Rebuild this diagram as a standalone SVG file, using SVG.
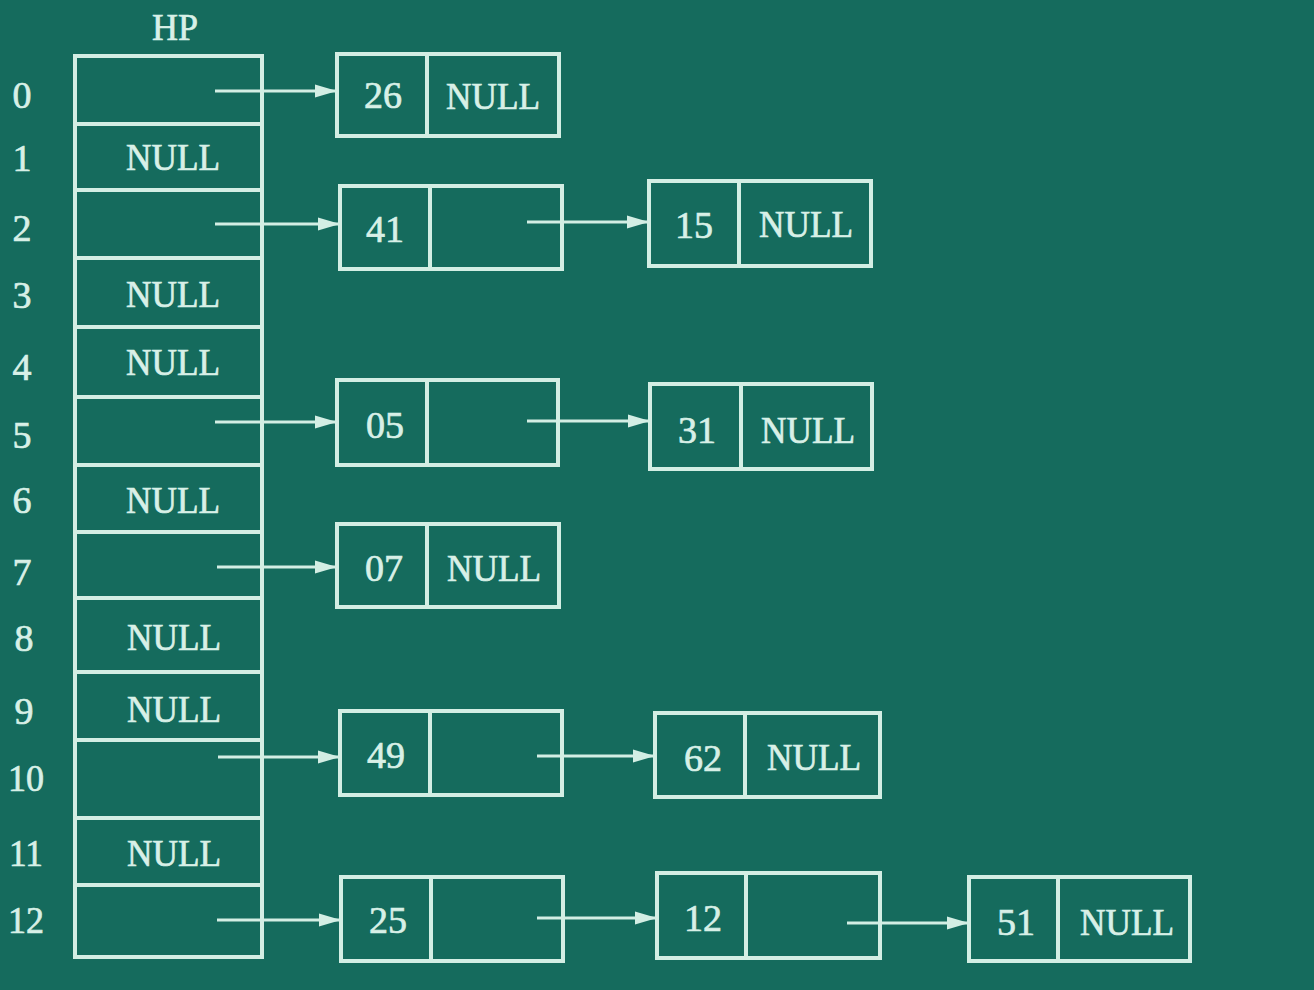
<svg xmlns="http://www.w3.org/2000/svg" width="1314" height="990" viewBox="0 0 1314 990">
<defs>
<style>
.ln{stroke:#d3eee4;stroke-width:4;fill:none}
.t{fill:#d8f0e7;stroke:#d8f0e7;stroke-width:0.7;font-family:"Liberation Serif","Times New Roman",serif;font-size:38px;text-anchor:middle}
.c{stroke:#d3eee4;stroke-width:3;fill:none}
</style>
<marker id="ah" markerUnits="userSpaceOnUse" markerWidth="24" markerHeight="16" refX="22" refY="8" orient="auto">
<path d="M0,1.5 L22,8 L0,14.5 Z" fill="#d3eee4"/>
</marker>
</defs>
<rect width="1314" height="990" fill="#156b5d"/>
<text class="t" x="175" y="40" font-size="32" textLength="46" lengthAdjust="spacingAndGlyphs">HP</text>
<g id="index">
<text class="t" x="22" y="108">0</text>
<text class="t" x="22" y="171">1</text>
<text class="t" x="22" y="241">2</text>
<text class="t" x="22" y="308">3</text>
<text class="t" x="22" y="380">4</text>
<text class="t" x="22" y="448">5</text>
<text class="t" x="22" y="513">6</text>
<text class="t" x="22" y="585">7</text>
<text class="t" x="24" y="651">8</text>
<text class="t" x="24" y="724">9</text>
<text class="t" x="26" y="791" textLength="36" lengthAdjust="spacingAndGlyphs">10</text>
<text class="t" x="26" y="866" textLength="34" lengthAdjust="spacingAndGlyphs">11</text>
<text class="t" x="26" y="933" textLength="36" lengthAdjust="spacingAndGlyphs">12</text>
</g>
<g id="hp">
<rect class="ln" x="75" y="56" width="187" height="901"/>
<path class="ln" d="M75,124H262M75,190H262M75,258H262M75,327H262M75,397H262M75,465H262M75,532H262M75,598H262M75,672H262M75,740H262M75,818H262M75,885H262"/>
<text class="t" x="173" y="170" textLength="94" lengthAdjust="spacingAndGlyphs">NULL</text>
<text class="t" x="173" y="307" textLength="94" lengthAdjust="spacingAndGlyphs">NULL</text>
<text class="t" x="173" y="375" textLength="94" lengthAdjust="spacingAndGlyphs">NULL</text>
<text class="t" x="173" y="513" textLength="94" lengthAdjust="spacingAndGlyphs">NULL</text>
<text class="t" x="174" y="650" textLength="94" lengthAdjust="spacingAndGlyphs">NULL</text>
<text class="t" x="174" y="722" textLength="94" lengthAdjust="spacingAndGlyphs">NULL</text>
<text class="t" x="174" y="866" textLength="94" lengthAdjust="spacingAndGlyphs">NULL</text>
</g>
<g id="connectors">
<line class="c" x1="215" y1="91" x2="337" y2="91" marker-end="url(#ah)"/>
<line class="c" x1="215" y1="224" x2="340" y2="224" marker-end="url(#ah)"/>
<line class="c" x1="527" y1="222" x2="649" y2="222" marker-end="url(#ah)"/>
<line class="c" x1="215" y1="422" x2="337" y2="422" marker-end="url(#ah)"/>
<line class="c" x1="527" y1="421" x2="650" y2="421" marker-end="url(#ah)"/>
<line class="c" x1="217" y1="567" x2="337" y2="567" marker-end="url(#ah)"/>
<line class="c" x1="218" y1="757" x2="340" y2="757" marker-end="url(#ah)"/>
<line class="c" x1="537" y1="756" x2="655" y2="756" marker-end="url(#ah)"/>
<line class="c" x1="217" y1="920" x2="341" y2="920" marker-end="url(#ah)"/>
<line class="c" x1="537" y1="918" x2="657" y2="918" marker-end="url(#ah)"/>
<line class="c" x1="847" y1="923" x2="969" y2="923" marker-end="url(#ah)"/>
</g>
<g id="n26">
<rect class="ln" x="337" y="54" width="222" height="82"/><path class="ln" d="M427,54V136"/>
<text class="t" x="383" y="108">26</text><text class="t" x="493" y="109" textLength="94" lengthAdjust="spacingAndGlyphs">NULL</text>
</g>
<g id="n41">
<rect class="ln" x="340" y="186" width="222" height="83"/><path class="ln" d="M430,186V269"/>
<text class="t" x="385" y="242">41</text>
</g>
<g id="n15">
<rect class="ln" x="649" y="181" width="222" height="85"/><path class="ln" d="M739,181V266"/>
<text class="t" x="694" y="238">15</text><text class="t" x="806" y="237" textLength="94" lengthAdjust="spacingAndGlyphs">NULL</text>
</g>
<g id="n05">
<rect class="ln" x="337" y="380" width="221" height="85"/><path class="ln" d="M427,380V465"/>
<text class="t" x="385" y="438">05</text>
</g>
<g id="n31">
<rect class="ln" x="650" y="384" width="222" height="85"/><path class="ln" d="M741,384V469"/>
<text class="t" x="697" y="443">31</text><text class="t" x="808" y="443" textLength="94" lengthAdjust="spacingAndGlyphs">NULL</text>
</g>
<g id="n07">
<rect class="ln" x="337" y="524" width="222" height="83"/><path class="ln" d="M427,524V607"/>
<text class="t" x="384" y="581">07</text><text class="t" x="494" y="581" textLength="94" lengthAdjust="spacingAndGlyphs">NULL</text>
</g>
<g id="n49">
<rect class="ln" x="340" y="711" width="222" height="84"/><path class="ln" d="M430,711V795"/>
<text class="t" x="386" y="768">49</text>
</g>
<g id="n62">
<rect class="ln" x="655" y="713" width="225" height="84"/><path class="ln" d="M745,713V797"/>
<text class="t" x="703" y="771">62</text><text class="t" x="814" y="770" textLength="94" lengthAdjust="spacingAndGlyphs">NULL</text>
</g>
<g id="n25">
<rect class="ln" x="341" y="877" width="222" height="84"/><path class="ln" d="M431,877V961"/>
<text class="t" x="388" y="933">25</text>
</g>
<g id="n12">
<rect class="ln" x="657" y="873" width="223" height="85"/><path class="ln" d="M746,873V958"/>
<text class="t" x="703" y="931">12</text>
</g>
<g id="n51">
<rect class="ln" x="969" y="877" width="221" height="84"/><path class="ln" d="M1058,877V961"/>
<text class="t" x="1016" y="935">51</text><text class="t" x="1127" y="935" textLength="94" lengthAdjust="spacingAndGlyphs">NULL</text>
</g>
</svg>
